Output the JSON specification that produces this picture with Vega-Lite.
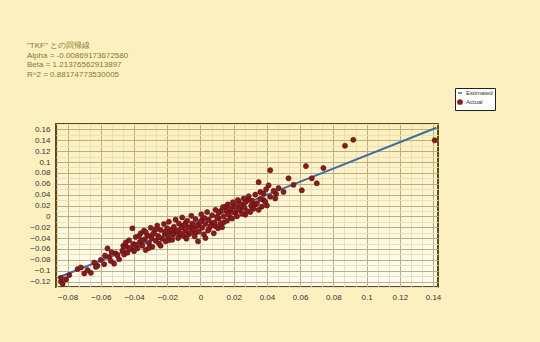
{
  "$schema": "https://vega.github.io/schema/vega-lite/v6.json",
  "width": 382,
  "height": 163,
  "autosize": {"type": "none"},
  "padding": {"left": 56, "top": 124, "right": 102, "bottom": 55},
  "background": "#fdf0c0",
  "title": {
    "text": ["\"TKF\" との回帰線", "Alpha = -0.00869173672580", "Beta = 1.21376562913897", "R^2 = 0.88174773530005"],
    "anchor": "start",
    "frame": "group",
    "dx": -29,
    "offset": 9,
    "fontSize": 8,
    "lineHeight": 9.5,
    "fontWeight": "normal",
    "font": "Liberation Sans",
    "color": "#8a7430"
  },
  "config": {
    "view": {
      "fill": {"gradient": "linear", "x1": 0, "y1": 0, "x2": 0, "y2": 1, "stops": [{"offset": 0, "color": "#fcefb8"}, {"offset": 1, "color": "#fffdf2"}]},
      "stroke": "#5c4a1e",
      "strokeWidth": 2
    },
    "axis": {
      "labelFont": "Liberation Sans",
      "labelFontSize": 8,
      "labelColor": "#333333",
      "domain": false,
      "ticks": false,
      "title": null
    }
  },
  "datasets": {
    "actual": [
      {"x": -0.084, "y": -0.120}, {"x": -0.084, "y": -0.113}, {"x": -0.083, "y": -0.124}, {"x": -0.081, "y": -0.116},
      {"x": -0.079, "y": -0.108}, {"x": -0.074, "y": -0.097}, {"x": -0.072, "y": -0.094}, {"x": -0.070, "y": -0.105},
      {"x": -0.068, "y": -0.099}, {"x": -0.066, "y": -0.104}, {"x": -0.064, "y": -0.085}, {"x": -0.062, "y": -0.091},
      {"x": -0.060, "y": -0.080}, {"x": -0.058, "y": -0.088}, {"x": -0.056, "y": -0.059}, {"x": -0.055, "y": -0.075},
      {"x": -0.054, "y": -0.082}, {"x": -0.052, "y": -0.087}, {"x": -0.051, "y": -0.068}, {"x": -0.050, "y": -0.072},
      {"x": -0.049, "y": -0.079}, {"x": -0.047, "y": -0.063},
      {"x": -0.0535, "y": -0.066}, {"x": -0.0575, "y": -0.072}, {"x": -0.063, "y": -0.093}, {"x": -0.0465, "y": -0.054},
      {"x": -0.046, "y": -0.070}, {"x": -0.045, "y": -0.055}, {"x": -0.044, "y": -0.067}, {"x": -0.043, "y": -0.044},
      {"x": -0.042, "y": -0.060}, {"x": -0.041, "y": -0.022}, {"x": -0.0405, "y": -0.051}, {"x": -0.040, "y": -0.064},
      {"x": -0.039, "y": -0.038}, {"x": -0.038, "y": -0.059}, {"x": -0.0365, "y": -0.047}, {"x": -0.036, "y": -0.031},
      {"x": -0.035, "y": -0.054}, {"x": -0.034, "y": -0.026}, {"x": -0.0335, "y": -0.042}, {"x": -0.033, "y": -0.062},
      {"x": -0.032, "y": -0.035}, {"x": -0.031, "y": -0.049}, {"x": -0.030, "y": -0.021}, {"x": -0.0295, "y": -0.040},
      {"x": -0.029, "y": -0.056}, {"x": -0.028, "y": -0.030}, {"x": -0.027, "y": -0.045}, {"x": -0.026, "y": -0.017},
      {"x": -0.0255, "y": -0.036}, {"x": -0.025, "y": -0.050}, {"x": -0.024, "y": -0.025}, {"x": -0.023, "y": -0.041},
      {"x": -0.022, "y": -0.014}, {"x": -0.0215, "y": -0.032}, {"x": -0.021, "y": -0.046}, {"x": -0.020, "y": -0.022},
      {"x": -0.0195, "y": -0.038}, {"x": -0.019, "y": -0.010}, {"x": -0.018, "y": -0.029},
      {"x": -0.045, "y": -0.048}, {"x": -0.043, "y": -0.058}, {"x": -0.039, "y": -0.052}, {"x": -0.037, "y": -0.036},
      {"x": -0.035, "y": -0.044}, {"x": -0.033, "y": -0.029}, {"x": -0.031, "y": -0.058}, {"x": -0.029, "y": -0.034},
      {"x": -0.027, "y": -0.024}, {"x": -0.025, "y": -0.039}, {"x": -0.024, "y": -0.054}, {"x": -0.021, "y": -0.028},
      {"x": -0.019, "y": -0.044}, {"x": -0.017, "y": -0.024}, {"x": -0.015, "y": -0.029}, {"x": -0.013, "y": -0.037},
      {"x": -0.011, "y": -0.018}, {"x": -0.009, "y": -0.012}, {"x": -0.007, "y": -0.033}, {"x": -0.005, "y": -0.020},
      {"x": -0.003, "y": -0.030}, {"x": -0.001, "y": -0.015}, {"x": 0.001, "y": -0.006}, {"x": 0.003, "y": -0.040},
      {"x": 0.005, "y": -0.024}, {"x": 0.007, "y": -0.013}, {"x": 0.009, "y": -0.018}, {"x": 0.011, "y": -0.004},
      {"x": 0.012, "y": 0.010}, {"x": 0.014, "y": -0.011}, {"x": 0.015, "y": 0.018}, {"x": 0.017, "y": 0.009},
      {"x": 0.018, "y": -0.002}, {"x": 0.020, "y": 0.021}, {"x": 0.021, "y": 0.006}, {"x": 0.023, "y": 0.027},
      {"x": 0.024, "y": 0.012}, {"x": 0.025, "y": 0.020}, {"x": 0.027, "y": 0.003}, {"x": 0.028, "y": 0.030},
      {"x": 0.030, "y": 0.008}, {"x": 0.031, "y": 0.017}, {"x": 0.033, "y": 0.022}, {"x": 0.035, "y": 0.012},
      {"x": 0.036, "y": 0.045}, {"x": 0.038, "y": 0.030}, {"x": 0.040, "y": 0.020}, {"x": 0.0395, "y": 0.050},
      {"x": 0.0455, "y": 0.041},
      {"x": -0.017, "y": -0.043}, {"x": -0.016, "y": -0.019}, {"x": -0.0165, "y": -0.034}, {"x": -0.015, "y": -0.006},
      {"x": -0.014, "y": -0.026}, {"x": -0.0135, "y": -0.040}, {"x": -0.013, "y": -0.013}, {"x": -0.012, "y": -0.031},
      {"x": -0.0115, "y": -0.021}, {"x": -0.011, "y": -0.002}, {"x": -0.010, "y": -0.036}, {"x": -0.0095, "y": -0.016},
      {"x": -0.009, "y": -0.027}, {"x": -0.008, "y": -0.008}, {"x": -0.0085, "y": -0.041}, {"x": -0.007, "y": -0.020},
      {"x": -0.006, "y": -0.030}, {"x": -0.0055, "y": 0.001}, {"x": -0.005, "y": -0.013}, {"x": -0.004, "y": -0.024},
      {"x": -0.0035, "y": -0.037}, {"x": -0.003, "y": -0.005}, {"x": -0.002, "y": -0.018}, {"x": -0.0015, "y": -0.046},
      {"x": -0.001, "y": -0.028}, {"x": 0.000, "y": -0.010}, {"x": 0.0005, "y": 0.004}, {"x": 0.001, "y": -0.021},
      {"x": 0.002, "y": -0.033}, {"x": 0.0025, "y": -0.003}, {"x": 0.003, "y": -0.014}, {"x": 0.004, "y": 0.008},
      {"x": 0.0045, "y": -0.026}, {"x": 0.005, "y": -0.007}, {"x": 0.006, "y": -0.018},
      {"x": 0.007, "y": 0.002}, {"x": 0.008, "y": -0.031}, {"x": 0.0085, "y": -0.011}, {"x": 0.009, "y": 0.012},
      {"x": 0.010, "y": -0.002}, {"x": 0.0105, "y": -0.022}, {"x": 0.011, "y": 0.006}, {"x": 0.012, "y": -0.013},
      {"x": 0.013, "y": -0.020}, {"x": 0.0135, "y": 0.017}, {"x": 0.014, "y": 0.000}, {"x": 0.0155, "y": 0.010},
      {"x": 0.016, "y": -0.008}, {"x": 0.0165, "y": 0.022}, {"x": 0.017, "y": 0.004}, {"x": 0.018, "y": 0.014},
      {"x": 0.019, "y": -0.004}, {"x": 0.0195, "y": 0.026}, {"x": 0.020, "y": 0.008}, {"x": 0.021, "y": 0.018},
      {"x": 0.022, "y": 0.000}, {"x": 0.0225, "y": 0.030}, {"x": 0.023, "y": 0.012}, {"x": 0.024, "y": 0.022},
      {"x": 0.025, "y": 0.005}, {"x": 0.026, "y": 0.033}, {"x": 0.0265, "y": 0.016}, {"x": 0.027, "y": 0.026},
      {"x": 0.028, "y": 0.010}, {"x": 0.029, "y": 0.037}, {"x": 0.0305, "y": 0.020}, {"x": 0.031, "y": 0.029},
      {"x": 0.032, "y": 0.014}, {"x": 0.033, "y": 0.040}, {"x": 0.034, "y": 0.024}, {"x": 0.035, "y": 0.063},
      {"x": 0.036, "y": 0.032}, {"x": 0.037, "y": 0.018}, {"x": 0.038, "y": 0.042}, {"x": 0.039, "y": 0.027},
      {"x": 0.041, "y": 0.057}, {"x": 0.042, "y": 0.085}, {"x": 0.042, "y": 0.036}, {"x": 0.044, "y": 0.047},
      {"x": 0.045, "y": 0.033}, {"x": 0.047, "y": 0.052}, {"x": 0.050, "y": 0.045}, {"x": 0.053, "y": 0.070},
      {"x": 0.056, "y": 0.058}, {"x": 0.061, "y": 0.048}, {"x": 0.0635, "y": 0.0925}, {"x": 0.067, "y": 0.070},
      {"x": 0.070, "y": 0.061}, {"x": 0.074, "y": 0.089}, {"x": 0.087, "y": 0.130}, {"x": 0.092, "y": 0.141},
      {"x": 0.141, "y": 0.140}
    ],
    "estimated": [
      {"x": -0.086, "y": -0.113, "series": "Estimated"},
      {"x": 0.142, "y": 0.163, "series": "Estimated"}
    ]
  },
  "encoding": {
    "x": {
      "field": "x", "type": "quantitative",
      "scale": {"domain": [-0.087, 0.143], "nice": false, "zero": false},
      "axis": {
        "values": [-0.086667, -0.08, -0.073333, -0.066667, -0.06, -0.053333, -0.046667, -0.04, -0.033333, -0.026667, -0.02, -0.013333, -0.006667, 0, 0.006667, 0.013333, 0.02, 0.026667, 0.033333, 0.04, 0.046667, 0.053333, 0.06, 0.066667, 0.073333, 0.08, 0.086667, 0.093333, 0.1, 0.106667, 0.113333, 0.12, 0.126667, 0.133333, 0.14],
        "labelExpr": "abs(round(datum.value*150)) % 3 == 0 ? format(datum.value, '.2~f') : ''",
        "gridColor": {"condition": {"test": "abs(round(datum.value*150)) % 3 == 0", "value": "#bcae80"}, "value": "#e8dfbe"},
        "gridWidth": 1,
        "labelPadding": 6,
        "labelFlush": false,
        "labelOverlap": false
      }
    },
    "y": {
      "field": "y", "type": "quantitative",
      "scale": {"domain": [-0.13, 0.17], "nice": false, "zero": false},
      "axis": {
        "values": [-0.13, -0.12, -0.11, -0.1, -0.09, -0.08, -0.07, -0.06, -0.05, -0.04, -0.03, -0.02, -0.01, 0, 0.01, 0.02, 0.03, 0.04, 0.05, 0.06, 0.07, 0.08, 0.09, 0.1, 0.11, 0.12, 0.13, 0.14, 0.15, 0.16, 0.17],
        "labelExpr": "abs(round(datum.value*100)) % 2 == 0 ? format(datum.value, '.2~f') : ''",
        "gridColor": {"condition": {"test": "abs(round(datum.value*100)) % 2 == 0", "value": "#bcae80"}, "value": "#e8dfbe"},
        "gridWidth": 1,
        "labelPadding": 6,
        "labelFlush": false,
        "labelOverlap": false
      }
    }
  },
  "layer": [
    {
      "data": {"name": "estimated"},
      "mark": {"type": "line", "strokeWidth": 2},
      "encoding": {
        "color": {
          "field": "series", "type": "nominal",
          "scale": {"domain": ["Estimated", "Actual"], "range": ["#3f6fa0", "#8b1a1a"]},
          "legend": {
            "title": null,
            "orient": "none",
            "legendX": 399,
            "legendY": -36,
            "fillColor": "#ffffff",
            "strokeColor": "#222222",
            "padding": 2,
            "labelFontSize": 6,
            "labelFont": "Liberation Sans",
            "labelColor": "#333333",
            "labelOffset": 3,
            "labelLimit": 60,
            "symbolSize": 18,
            "rowPadding": 0,
            "encode": {
              "symbols": {
                "enter": {"shape": {"signal": "datum.value === 'Actual' ? 'square' : 'stroke'"}},
                "update": {
                  "stroke": {"scale": "color", "field": "value"},
                  "strokeWidth": {"value": 1.5},
                  "shape": {"signal": "datum.value === 'Actual' ? 'square' : 'stroke'"}
                }
              }
            }
          }
        }
      }
    },
    {
      "data": {"name": "actual"},
      "transform": [{"calculate": "'Actual'", "as": "series"}],
      "mark": {"type": "point", "filled": true, "size": 26, "stroke": "#5a1010", "strokeWidth": 0.6, "opacity": 1},
      "encoding": {
        "color": {"field": "series", "type": "nominal"},
        "shape": {
          "field": "series", "type": "nominal",
          "scale": {"domain": ["Estimated", "Actual"], "range": ["stroke", "circle"]},
          "legend": null
        }
      }
    }
  ]
}
